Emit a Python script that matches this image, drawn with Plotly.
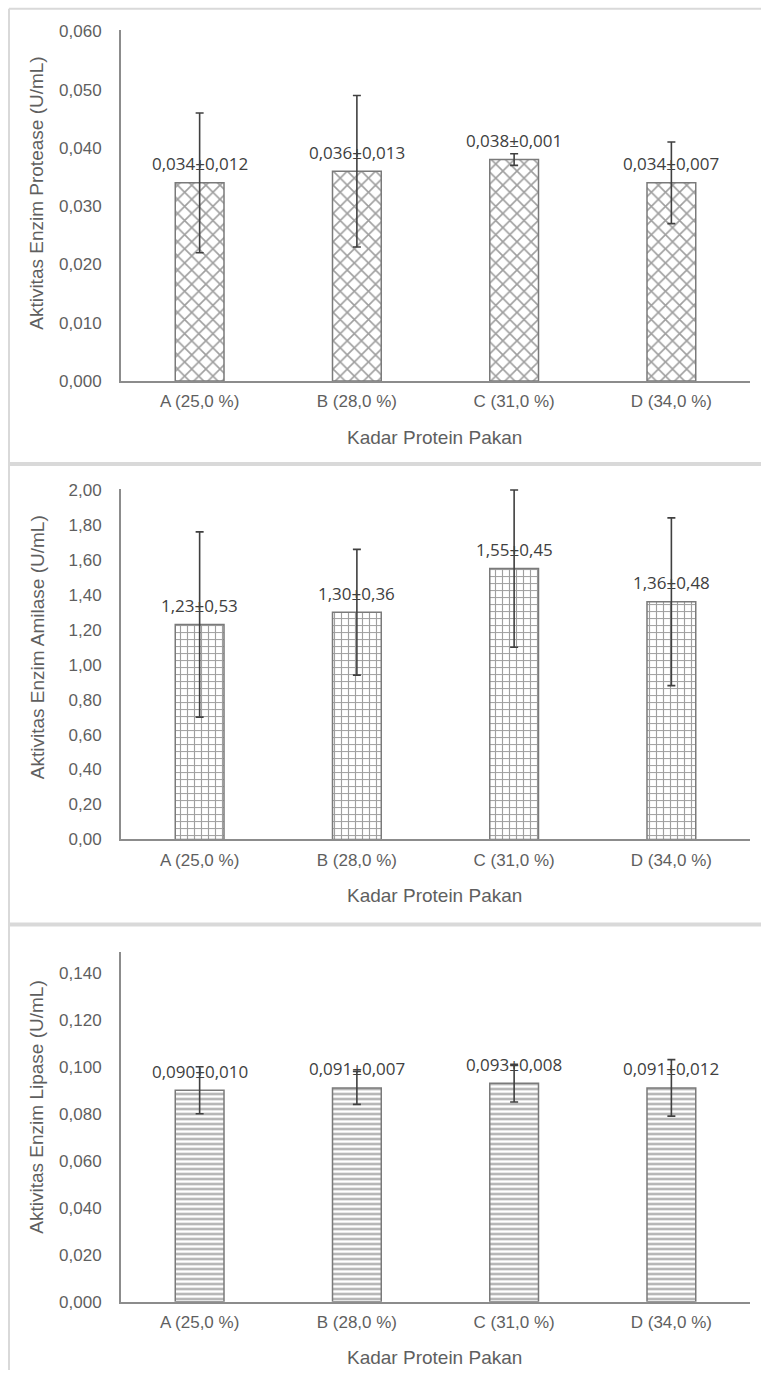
import plotly.graph_objects as go

categories = ["A (25,0 %)", "B (28,0 %)", "C (31,0 %)", "D (34,0 %)"]

protease_mean = [0.034, 0.036, 0.038, 0.034]
protease_sd = [0.012, 0.013, 0.001, 0.007]

amilase_mean = [1.23, 1.30, 1.55, 1.36]
amilase_sd = [0.53, 0.36, 0.45, 0.48]

lipase_mean = [0.090, 0.091, 0.093, 0.091]
lipase_sd = [0.010, 0.007, 0.008, 0.012]

x_title = "Kadar Protein Pakan"
y_titles = ["Aktivitas Enzim Protease (U/mL)",
            "Aktivitas Enzim Amilase (U/mL)",
            "Aktivitas Enzim Lipase (U/mL)"]

W, H = 761, 1380
TICK_COLOR = "#5f5f5f"
LABEL_COLOR = "#404040"
AXIS_COLOR = "#8c8c8c"
FONT = "Liberation Sans, Arial, sans-serif"
LABEL_FONT = "Open Sans, sans-serif"


def py(ref_y):
    # convert a target pixel row to paper fraction (empirical page offset/scale)
    d = (ref_y - 9.4) / 0.986
    return 1 - d / H


panels = [
    dict(mean=protease_mean, sd=protease_sd, dec=3, shape="x", size=10, sol=0.3,
         yrange=[0, 0.0603], dtick=0.010, fmt=".3f", top=31, bottom=382,
         title_y=195, title=y_titles[0]),
    dict(mean=amilase_mean, sd=amilase_sd, dec=2, shape="+", size=7, sol=0.3,
         yrange=[0, 2.005], dtick=0.20, fmt=".2f", top=490, bottom=840,
         title_y=648, title=y_titles[1]),
    dict(mean=lipase_mean, sd=lipase_sd, dec=3, shape="-", size=5, sol=0.4,
         yrange=[0, 0.149], dtick=0.020, fmt=".3f", top=952, bottom=1302,
         title_y=1108, title=y_titles[2]),
]

x_dom = [121 / W, 750 / W]

fig = go.Figure()
annotations = []
layout_axes = {}

for i, p in enumerate(panels, start=1):
    xa = "x" if i == 1 else f"x{i}"
    ya = "y" if i == 1 else f"y{i}"
    fig.add_trace(go.Bar(
        x=categories, y=p["mean"], xaxis=xa, yaxis=ya,
        marker=dict(color="white",
                    line=dict(color="#7a7a7a", width=1.5),
                    pattern=dict(shape=p["shape"], fgcolor="#404040", bgcolor="white",
                                 size=p["size"], solidity=p["sol"])),
        error_y=dict(type="data", array=p["sd"], visible=True,
                     color=LABEL_COLOR, thickness=1.6, width=4),
        showlegend=False, hoverinfo="skip",
    ))
    for c, m, s in zip(categories, p["mean"], p["sd"]):
        txt = f"{m:.{p['dec']}f}±{s:.{p['dec']}f}".replace(".", ",")
        annotations.append(dict(x=c, y=m, xref=xa, yref=ya, text=txt, showarrow=False,
                                yshift=19, yanchor="middle",
                                font=dict(family=LABEL_FONT, size=17, color=LABEL_COLOR)))
    ydom = [py(p["bottom"]), py(p["top"])]
    key_x = "xaxis" if i == 1 else f"xaxis{i}"
    key_y = "yaxis" if i == 1 else f"yaxis{i}"
    layout_axes[key_x] = dict(domain=x_dom, anchor=ya, showline=True, linecolor=AXIS_COLOR,
                              linewidth=2, showgrid=False, ticks="", zeroline=False,
                              tickfont=dict(family=FONT, size=17, color=TICK_COLOR),
                              ticklabelstandoff=4)
    layout_axes[key_y] = dict(domain=ydom, anchor=xa, range=p["yrange"], dtick=p["dtick"],
                              tick0=0, tickformat=p["fmt"], showline=True,
                              linecolor=AXIS_COLOR, linewidth=2, showgrid=False,
                              zeroline=False, ticks="",
                              tickfont=dict(family=FONT, size=17, color=TICK_COLOR),
                              ticklabelstandoff=14)
    annotations.append(dict(x=434 / W, y=py(p["bottom"] + 56),
                            xref="paper", yref="paper", text=x_title, showarrow=False,
                            xanchor="center", yanchor="middle",
                            font=dict(family=FONT, size=19, color=TICK_COLOR)))
    annotations.append(dict(x=37 / W, y=py(p["title_y"]),
                            xref="paper", yref="paper", text=p["title"], showarrow=False,
                            textangle=-90, xanchor="center", yanchor="middle",
                            font=dict(family=FONT, size=19, color=TICK_COLOR)))

border = "#d9d9d9"
shapes = [
    dict(type="line", xref="paper", yref="paper", x0=9 / W, x1=1, y0=0.9995, y1=0.9995,
         line=dict(color=border, width=2)),
    dict(type="line", xref="paper", yref="paper", x0=9 / W, x1=9 / W, y0=0, y1=0.9995,
         line=dict(color=border, width=2)),
    dict(type="line", xref="paper", yref="paper", x0=9 / W, x1=1, y0=py(465), y1=py(465),
         line=dict(color=border, width=4)),
    dict(type="line", xref="paper", yref="paper", x0=9 / W, x1=1, y0=py(925), y1=py(925),
         line=dict(color=border, width=4)),
]

fig.update_layout(
    width=W, height=H, margin=dict(l=0, r=0, t=0, b=0),
    paper_bgcolor="white", plot_bgcolor="white",
    separators=",.", bargap=0.69, showlegend=False,
    annotations=annotations, shapes=shapes,
    **layout_axes,
)

fig.write_html("out.html", config={"displayModeBar": False},
               post_script="document.body.style.margin='0px';document.body.style.overflow='hidden';")
